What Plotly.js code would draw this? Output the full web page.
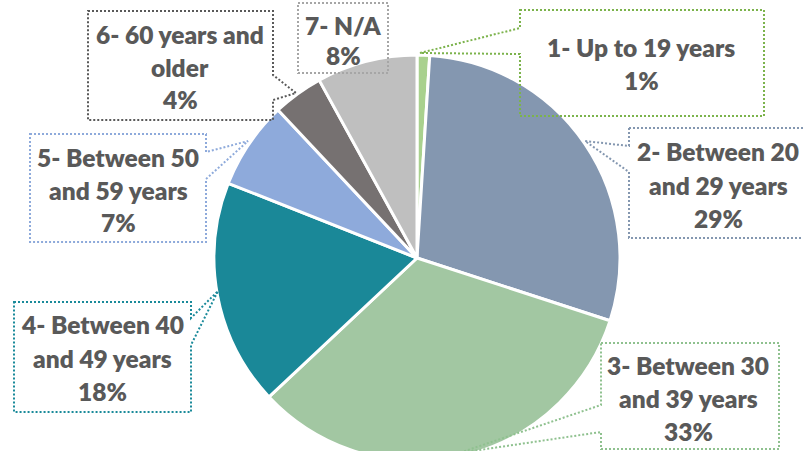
<!DOCTYPE html>
<html>
<head>
<meta charset="utf-8">
<script src="https://cdn.plot.ly/plotly-3.0.1.min.js"></script>
<style>
html,body{margin:0;padding:0;overflow:hidden;background:#fff;width:803px;height:451px;}
#chart{width:803px;height:520px;}
</style>
</head>
<body>
<div id="chart"></div>
<script>
// ---- data ----
const categoryLines = [
  ['1- Up to 19 years'],
  ['2- Between 20', 'and 29 years'],
  ['3- Between 30', 'and 39 years'],
  ['4- Between 40', 'and 49 years'],
  ['5- Between 50', 'and 59 years'],
  ['6- 60 years and', 'older'],
  ['7- N/A']
];
const categories = categoryLines.map(l => l.join(' '));
const values = [1, 29, 33, 18, 7, 4, 8];

// ---- styles ----
const sliceColors = ['#a9d18e', '#8497b0', '#a2c7a2', '#1a8898', '#8eaadb', '#767171', '#bfbfbf'];
const boxColors   = ['#7cb34c', '#8497b0', '#8fc18f', '#1a8a9a', '#8eaadb', '#595959', '#a6a6a6'];

const W = 803, H = 520;
const X = x => x / W;
const Y = y => 1 - y / H;

// callout layout in page pixels: outline path points, text centre x, first baseline, line step
const callouts = [
  {pts: [[520,10],[764,10],[764,116],[520,116],[520,54],[420,53],[520,28]], cx: 641, base: 55, step: 33},
  {pts: [[629,128],[812,128],[812,238],[629,238],[629,172],[585,141],[629,146]], cx: 718, base: 159, step: 33.5},
  {pts: [[601,343],[779,343],[779,449],[601,449],[601,432],[459,453],[601,405]], cx: 688, base: 373, step: 33},
  {pts: [[14,302],[191,302],[191,318],[218,291],[191,345],[191,412],[14,412]], cx: 102, base: 332, step: 33.5},
  {pts: [[30,134],[206,134],[206,152],[248,141],[206,179],[206,242],[30,242]], cx: 118, base: 165, step: 32.5},
  {pts: [[88,11],[273,11],[273,75],[296,93],[273,100],[273,120],[88,120]], cx: 180, base: 42, step: 32.5},
  {pts: [[298,3],[388,3],[388,73],[298,73]], cx: 343, base: 33, step: 30}
];

const total = values.reduce((a, b) => a + b, 0);
const fontSize = 24.5;
const shapes = [];
const annotations = [];
callouts.forEach((c, i) => {
  const path = 'M ' + c.pts.map(p => X(p[0]).toFixed(5) + ',' + Y(p[1]).toFixed(5)).join(' L ') + ' Z';
  shapes.push({type: 'path', xref: 'paper', yref: 'paper', path: path,
    line: {color: boxColors[i], width: 2, dash: '2px,2px'}, fillcolor: 'rgba(0,0,0,0)', layer: 'above'});
  const lines = categoryLines[i].concat([Math.round(values[i] / total * 100) + '%']);
  lines.forEach((t, k) => {
    annotations.push({xref: 'paper', yref: 'paper', x: X(c.cx), y: Y(c.base + k * c.step - 7.5),
      xanchor: 'center', yanchor: 'middle', showarrow: false, text: t,
      font: {family: 'Lato, Carlito, Calibri, sans-serif', size: fontSize, color: '#595959', weight: 800}});
  });
});

const cx = 417, cy = 258, r = 203;
const trace = {
  type: 'pie', labels: categories, values: values, sort: false, direction: 'clockwise', rotation: 0,
  marker: {colors: sliceColors, line: {color: '#ffffff', width: 3}},
  textinfo: 'none', hoverinfo: 'label+percent', showlegend: false,
  domain: {x: [X(cx - r), X(cx + r)], y: [Y(cy + r), Y(cy - r)]}
};

Plotly.newPlot('chart', [trace], {
  width: W, height: H, margin: {l: 0, r: 0, t: 0, b: 0},
  paper_bgcolor: '#ffffff', plot_bgcolor: '#ffffff',
  showlegend: false, shapes: shapes, annotations: annotations
}, {displayModeBar: false, staticPlot: true});
</script>
</body>
</html>
